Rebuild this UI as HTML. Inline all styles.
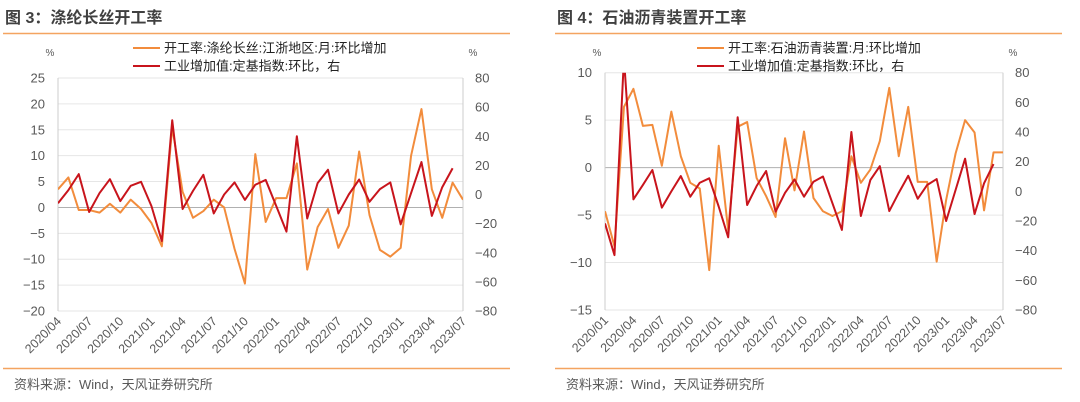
<!DOCTYPE html>
<html><head><meta charset="utf-8">
<style>
body{margin:0;width:1080px;height:402px;background:#fff;overflow:hidden;font-family:"Liberation Sans","Noto Sans CJK SC",sans-serif;}
svg{position:absolute;left:0;top:0}
</style></head>
<body>
<svg id="s" width="1080" height="402"></svg>
<script>
const c1Cats = ["2020/04","2020/07","2020/10","2021/01","2021/04","2021/07","2021/10","2022/01","2022/04","2022/07","2022/10","2023/01","2023/04","2023/07"];
const c1Orange = [3.5,5.8,-0.5,-0.5,-1,0.7,-1,1.5,-0.3,-3,-7.5,15.5,3,-2,-0.7,1.5,0,-8,-14.7,10.3,-2.8,1.8,1.8,8.5,-12,-3.8,-0.3,-7.8,-3.5,10.8,-1.5,-8.2,-9.5,-7.8,10,19,3.5,-2,4.8,1.5];
const c1Red = [-6,3,14,-12,1,10.5,-4.5,6,8.7,-8,-32,51,-10,2.5,13.5,-13,0,8.3,-3.7,6.7,10,-7.6,-25.5,40,-16.5,7.8,17,-13,0,10.3,-5,3.7,8.3,-20.5,1,22.3,-14.7,5,18];
const c1LeftTicks = [25,20,15,10,5,0,-5,-10,-15,-20];
const c1RightTicks = [80,60,40,20,0,-20,-40,-60,-80];

const c2Cats = ["2020/01","2020/04","2020/07","2020/10","2021/01","2021/04","2021/07","2021/10","2022/01","2022/04","2022/07","2022/10","2023/01","2023/04","2023/07"];
const c2Orange = [-4.6,-8.3,6.4,8.3,4.4,4.5,0.2,5.9,1.2,-1.6,-2.2,-10.8,2.3,-6.6,4.3,4.8,-1.1,-3,-5.2,3.1,-2.4,3.8,-3.2,-4.6,-5.1,-4.6,1.2,-1.6,-0.2,2.8,8.4,1.2,6.4,-1.5,-1.5,-9.9,-3.4,1.5,5.0,3.7,-4.5,1.6,1.6];
const c2Red = [-21.6,-43,90,-5.4,4.3,14.4,-11,0,10.3,-3.6,5.8,8.8,-10.3,-31,50,-9.2,3.6,13.7,-13.7,-1,8,-3.6,6.5,10,-8,-26,40,-16.6,7.6,17,-13.3,-1,10.5,-5,4.3,8.3,-20,1,22,-15.3,5.4,18.4];
const c2LeftTicks = [10,5,0,-5,-10,-15];
const c2RightTicks = [80,60,40,20,0,-20,-40,-60,-80];

const NS="http://www.w3.org/2000/svg";
const svg=document.getElementById('s');
function el(tag,attrs,parent){const e=document.createElementNS(NS,tag);for(const k in attrs)e.setAttribute(k,attrs[k]);(parent||svg).appendChild(e);return e;}
const ORANGE="#F28C3C", RED="#C8141C", GRID="#e6e6e6", TXT="#595959";

function drawChart(o){
  const g=el('g',{});
  
  
  const yL=v=>o.top+(o.lMax-v)/(o.lMax-o.lMin)*(o.bot-o.top);
  const yR=v=>o.top+(o.rMax-v)/(o.rMax-o.rMin)*(o.bot-o.top);
  const n=o.orange.length;
  const xS=i=>o.left+i*(o.right-o.left)/(n-1);
  const t=el('text',{x:o.tx,y:23,'font-size':16,'font-weight':'bold',fill:'#404040'},g);t.textContent=o.title;
  
  const hl=el('line',{x1:o.tx-2,x2:o.tx+505,y1:33.5,y2:33.5,stroke:'#F4A460','stroke-width':1.5},g);
  
  const bl=el('line',{x1:o.tx-2,x2:o.tx+505,y1:368.5,y2:368.5,stroke:'#F4A460','stroke-width':1.5},g);
  
  const src=el('text',{x:o.tx+9,y:389,'font-size':13,fill:TXT},g);src.textContent="资料来源：Wind，天风证券研究所";
  
  o.lTicks.forEach(v=>{
    const y=yL(v);
    const gl=el('line',{x1:o.left,x2:o.right,y1:y,y2:y,stroke:v===0?'#b0b0b0':GRID,'stroke-width':1},g);
    
    const tl=el('text',{x:o.left-13,y:y+4.5,'font-size':13,fill:TXT,'text-anchor':'end'},g);tl.textContent=String(v).replace('-','−');
    
  });
  o.rTicks.forEach(v=>{
    const y=yR(v);
    const tl=el('text',{x:o.right+12,y:y+4.5,'font-size':13,fill:TXT},g);tl.textContent=String(v).replace('-','−');
    
  });
  const ax1=el('line',{x1:o.left,x2:o.left,y1:o.top,y2:o.bot,stroke:'#ccc'},g);
  const ax2=el('line',{x1:o.right,x2:o.right,y1:o.top,y2:o.bot,stroke:'#ccc'},g);
  const p1=el('text',{x:o.left-8,y:56,'font-size':10,fill:TXT,'text-anchor':'middle'},g);p1.textContent='%';
  const p2=el('text',{x:o.right+10,y:56,'font-size':10,fill:TXT,'text-anchor':'middle'},g);p2.textContent='%';
  o.cats.forEach((c,k)=>{
    const x=xS(k*3), y=o.bot+11;
    const tl=el('text',{x:x+4,y:y,'font-size':12.5,fill:TXT,'text-anchor':'end',transform:`rotate(-45 ${x+4} ${y})`},g);tl.textContent=c;
    
  });
  const cid='clip'+o.name;
  const cp=el('clipPath',{id:cid},g);el('rect',{x:o.left,y:o.top,width:o.right-o.left,height:o.bot-o.top},cp);
  const pO=el('polyline',{points:o.orange.map((v,i)=>xS(i)+','+yL(v)).join(' '),fill:'none',stroke:ORANGE,'stroke-width':2,'stroke-linejoin':'round','clip-path':`url(#${cid})`},g);
  
  const pR=el('polyline',{points:o.red.map((v,i)=>xS(i)+','+yR(v)).join(' '),fill:'none',stroke:RED,'stroke-width':2,'stroke-linejoin':'round','clip-path':`url(#${cid})`},g);
  
  const lg=el('g',{},g);
  [[ORANGE,o.l1,48],[RED,'工业增加值:定基指数:环比，右',66]].forEach(([col,txt,y])=>{
    el('line',{x1:o.lx,x2:o.lx+27,y1:y,y2:y,stroke:col,'stroke-width':2},lg);
    const lt=el('text',{x:o.lx+31,y:y+4.5,'font-size':13,fill:'#222'},lg);lt.textContent=txt;
    
  });
}
drawChart({name:'chart-polyester',title:'图 3：涤纶长丝开工率',tx:5,left:58,right:463,top:78,bot:311,lMax:25,lMin:-20,rMax:80,rMin:-80,
  lTicks:c1LeftTicks,rTicks:c1RightTicks,cats:c1Cats,orange:c1Orange,red:c1Red,lx:133,l1:'开工率:涤纶长丝:江浙地区:月:环比增加'});
drawChart({name:'chart-asphalt',title:'图 4：石油沥青装置开工率',tx:557,left:605,right:1003,top:72.7,bot:310,lMax:10,lMin:-15,rMax:80,rMin:-80,
  lTicks:c2LeftTicks,rTicks:c2RightTicks,cats:c2Cats,orange:c2Orange,red:c2Red,lx:697,l1:'开工率:石油沥青装置:月:环比增加'});
</script>
</body></html>
